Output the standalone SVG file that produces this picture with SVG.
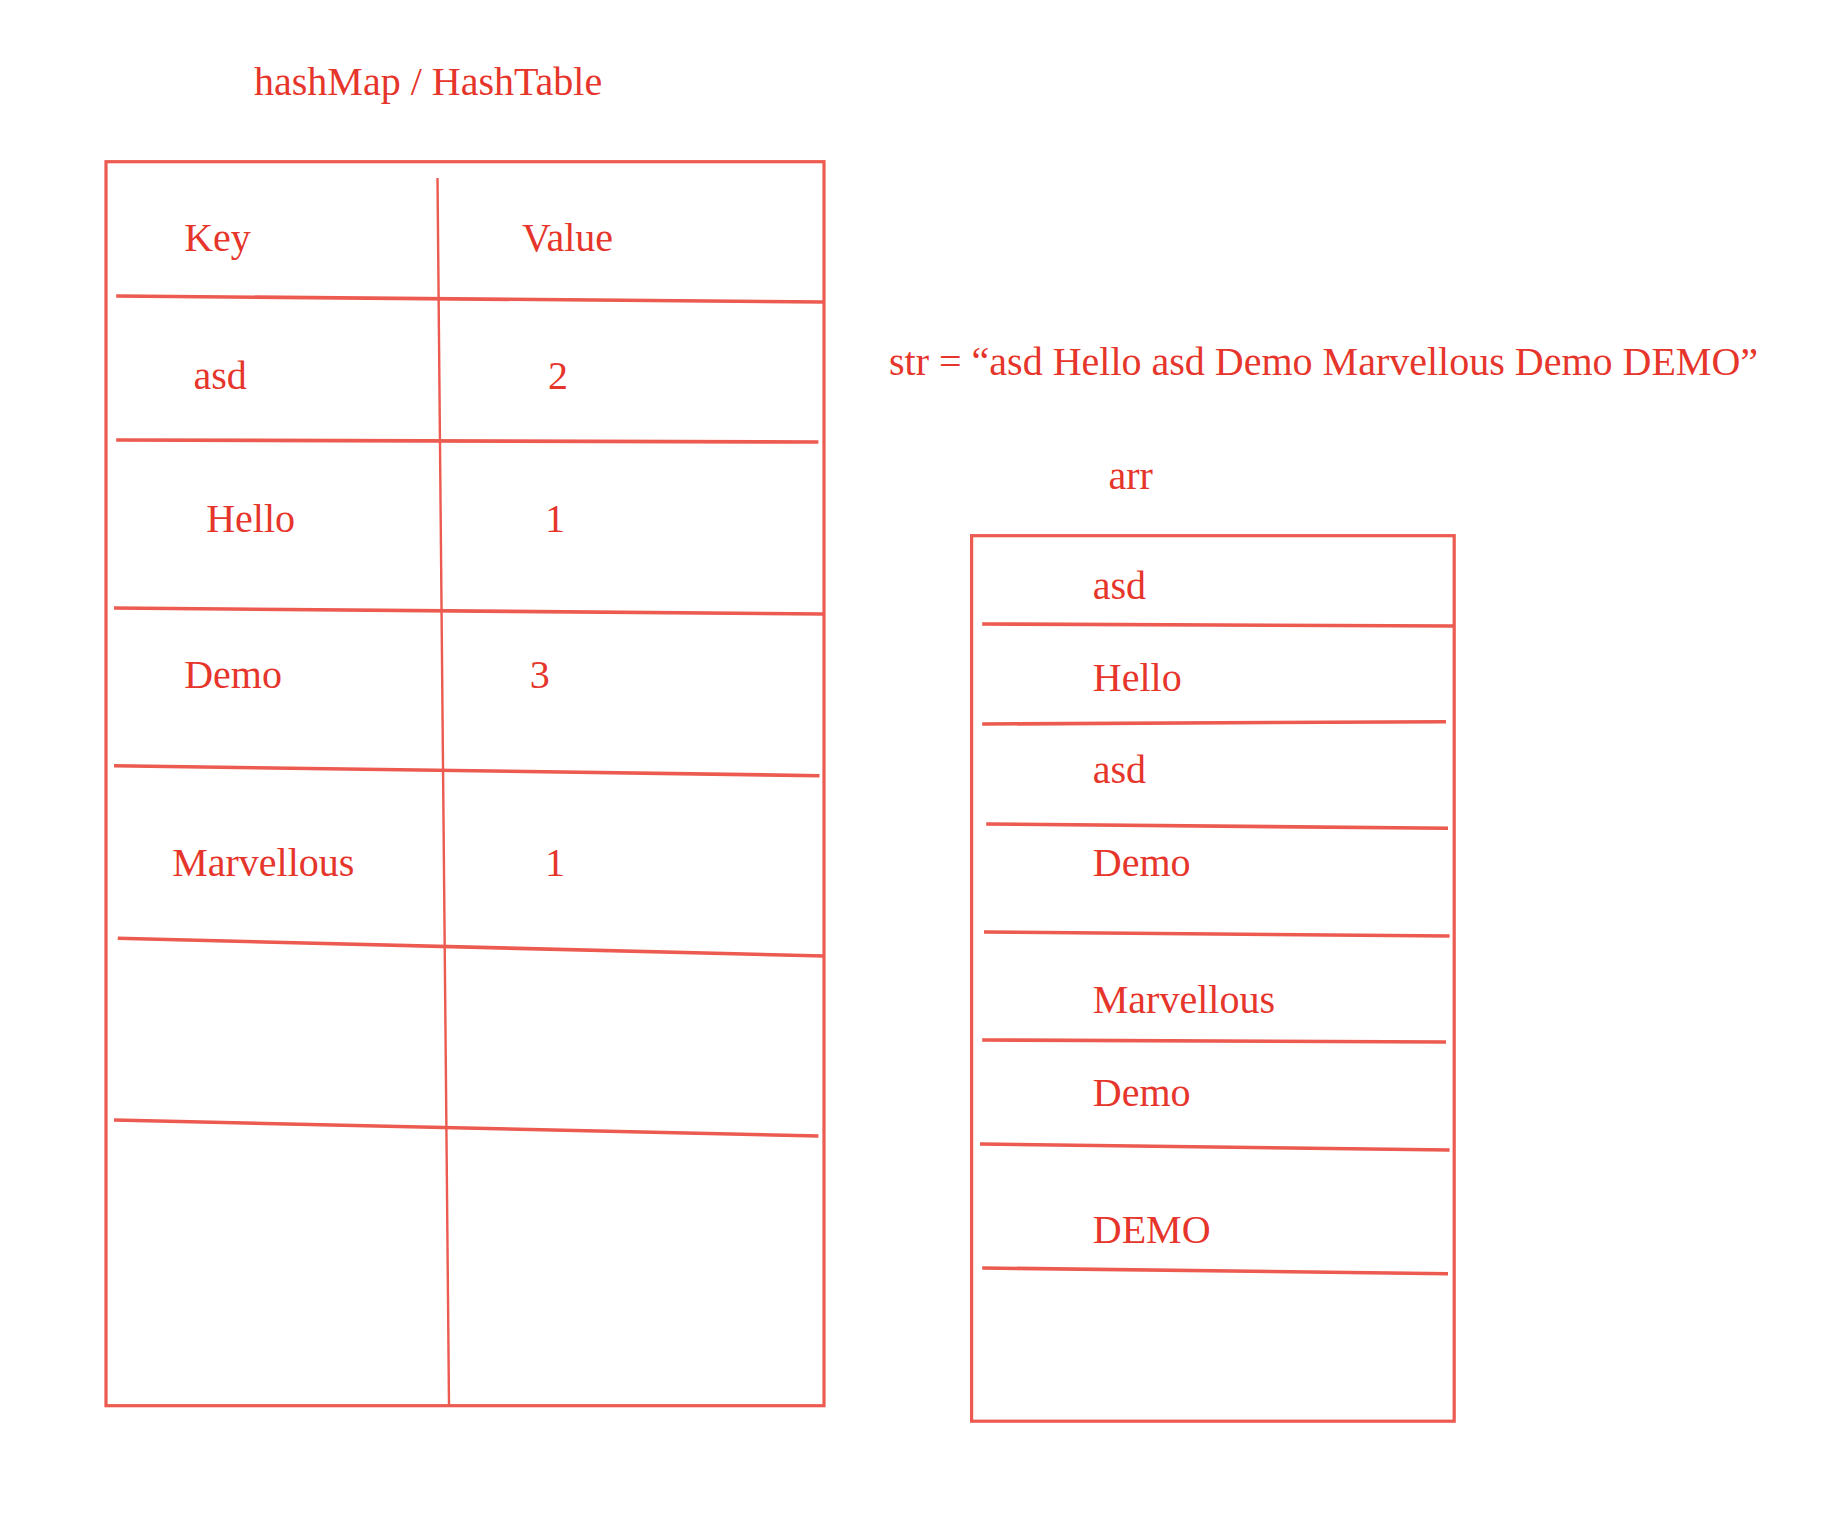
<svg xmlns="http://www.w3.org/2000/svg" width="1828" height="1528" viewBox="0 0 1828 1528">
<style>
.t{font-family:"Liberation Serif","Times New Roman",serif;font-size:40px;fill:#e6352b}
.b{fill:none;stroke:#ec5a50;stroke-width:3.2}
.l{fill:none;stroke:#ec5a50;stroke-width:3.6;stroke-linecap:butt}
.d{fill:none;stroke:#ec5a50;stroke-width:2.4}
</style>
<rect width="1828" height="1528" fill="#ffffff"/>
<text id="title" class="t" x="254" y="95">hashMap / HashTable</text>
<g id="hashtable">
<rect class="b" x="106" y="161.7" width="718" height="1244"/>
<line class="d" x1="437.5" y1="178" x2="449" y2="1405"/>
<line class="l" x1="116.2" y1="296" x2="824" y2="302"/>
<line class="l" x1="116.2" y1="440" x2="818.4" y2="442"/>
<line class="l" x1="114" y1="608" x2="824" y2="614"/>
<line class="l" x1="114" y1="765.7" x2="819.5" y2="775.7"/>
<line class="l" x1="117.8" y1="938.3" x2="824" y2="956"/>
<line class="l" x1="114" y1="1120" x2="818.4" y2="1136"/>
<text class="t" x="184.2" y="250.7">Key</text>
<text class="t" x="522" y="250.7">Value</text>
<text class="t" x="193.5" y="389.3">asd</text>
<text class="t" x="548" y="389.3">2</text>
<text class="t" x="206.2" y="531.7">Hello</text>
<text class="t" x="545" y="531.7">1</text>
<text class="t" x="184.2" y="687.7">Demo</text>
<text class="t" x="529.8" y="687.7">3</text>
<text class="t" x="172.2" y="875.7">Marvellous</text>
<text class="t" x="545" y="875.7">1</text>
</g>
<text id="str" class="t" x="889" y="375">str = “asd Hello asd Demo Marvellous Demo DEMO”</text>
<text id="arr-label" class="t" x="1108.5" y="489">arr</text>
<g id="arr">
<rect class="b" x="971.6" y="535.7" width="482.6" height="885.5"/>
<line class="l" x1="982.2" y1="624" x2="1454" y2="626"/>
<line class="l" x1="982.2" y1="724" x2="1446" y2="721.7"/>
<line class="l" x1="986.2" y1="824" x2="1448" y2="828.3"/>
<line class="l" x1="984" y1="932" x2="1449.6" y2="936"/>
<line class="l" x1="982.2" y1="1040" x2="1446" y2="1042"/>
<line class="l" x1="980" y1="1144" x2="1449.6" y2="1150"/>
<line class="l" x1="982.2" y1="1268" x2="1448" y2="1273.7"/>
<text class="t" x="1092.8" y="599.3">asd</text>
<text class="t" x="1092.8" y="691">Hello</text>
<text class="t" x="1092.8" y="783.3">asd</text>
<text class="t" x="1092.8" y="875.7">Demo</text>
<text class="t" x="1092.8" y="1013.3">Marvellous</text>
<text class="t" x="1092.8" y="1105.7">Demo</text>
<text class="t" x="1092.8" y="1243.3">DEMO</text>
</g>
<g id="connectors"/>
</svg>
